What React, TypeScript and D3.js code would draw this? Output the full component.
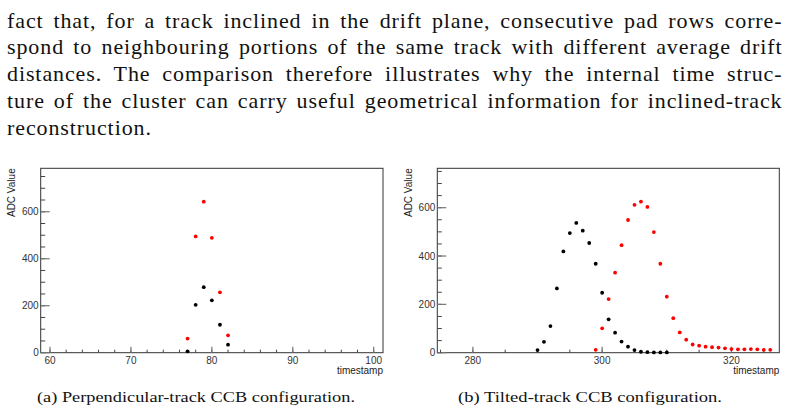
import React, { useLayoutEffect, useRef, useState } from 'react'
import * as d3 from 'd3'

// paragraph lines (justified, last line left ragged)
const bodyLines = [
  'fact that, for a track inclined in the drift plane, consecutive pad rows corre-',
  'spond to neighbouring portions of the same track with different average drift',
  'distances. The comparison therefore illustrates why the internal time struc-',
  'ture of the cluster can carry useful geometrical information for inclined-track',
  'reconstruction.',
]

const captionA = '(a) Perpendicular-track CCB configuration.'
const captionB = '(b) Tilted-track CCB configuration.'

// perpendicular track
const perpTimes = [77, 78, 79, 80, 81, 82]
const perpBlack = [6, 204, 279, 223, 119, 34]
const perpRed = [60, 495, 643, 489, 257, 74]

// tilted track
const tiltBlackTimes = [290, 291, 292, 293, 294, 295, 296, 297, 298, 299, 300, 301, 302, 303, 304, 305, 306, 307, 308, 309, 310]
const tiltBlack = [11, 45, 110, 266, 419, 495, 537, 505, 454, 368, 248, 138, 83, 46, 25, 11, 4, 2, 1, 1, 1]
const tiltRedTimes = [299, 300, 301, 302, 303, 304, 305, 306, 307, 308, 309, 310, 311, 312, 313, 314, 315, 316, 317, 318, 319, 320, 321, 322, 323, 324, 325, 326]
const tiltRed = [12, 101, 222, 331, 445, 549, 612, 625, 603, 499, 368, 232, 143, 84, 54, 34, 29, 25, 23, 21, 18, 15, 14, 14, 15, 14, 12, 12]

const sans = "'Liberation Sans', Arial, sans-serif"
const serif = "'Liberation Serif', 'Times New Roman', serif"

type Series = { times: number[]; values: number[]; color: string }

function Panel({
  left, right, top, bottom,
  xDomain, yTop,
  xMajor, xMinor,
  series,
}: {
  left: number; right: number; top: number; bottom: number
  xDomain: [number, number]; yTop: number
  xMajor: number[]; xMinor: number[]
  series: Series[]
}) {
  const x = d3.scaleLinear().domain(xDomain).range([left, right])
  const y = d3.scaleLinear().domain([0, yTop]).range([bottom, top])
  const yMajor = d3.range(0, yTop, 200)
  const yMinor = d3.range(0, yTop, 50)

  return (
    <g>
      {/* frame */}
      <rect x={left} y={top} width={right - left} height={bottom - top}
        fill="none" stroke="#333" strokeWidth={1} />

      {/* y ticks */}
      {yMinor.map(v => (
        <line key={'ym' + v} x1={left} x2={left + 4.5} y1={y(v)} y2={y(v)} stroke="#444" />
      ))}
      {yMajor.map(v => (
        <g key={'yM' + v}>
          <line x1={left} x2={left + 9} y1={y(v)} y2={y(v)} stroke="#777" strokeWidth={1.2} />
          <text x={left - 2} y={y(v) + 3.5} textAnchor="end" fontSize={10}
            style={{ fontFamily: sans }} fill="#333">{v}</text>
        </g>
      ))}

      {/* x ticks */}
      {xMinor.map(v => (
        <line key={'xm' + v} x1={x(v)} x2={x(v)} y1={bottom} y2={bottom - 3} stroke="#444" />
      ))}
      {xMajor.map(v => (
        <g key={'xM' + v}>
          <line x1={x(v)} x2={x(v)} y1={bottom} y2={bottom - 6} stroke="#777" strokeWidth={1.2} />
          <text x={x(v)} y={bottom + 11} textAnchor="middle" fontSize={10}
            style={{ fontFamily: sans }} fill="#333">{v}</text>
        </g>
      ))}

      {/* axis titles */}
      <text x={right} y={bottom + 21} textAnchor="end" fontSize={10}
        style={{ fontFamily: sans }} fill="#222">timestamp</text>
      <text transform={`translate(${left - 25.5},${top}) rotate(-90)`} textAnchor="end"
        fontSize={10} style={{ fontFamily: sans }} fill="#222">ADC Value</text>

      {/* markers */}
      {series.map((s, i) => (
        <g key={i}>
          {s.times.map((t, j) => (
            <circle key={t} cx={x(t)} cy={y(s.values[j])} r={1.9} fill={s.color} />
          ))}
        </g>
      ))}
    </g>
  )
}

const bodyLeft = 7
const bodyRight = 782.5
const baselines = [27.5, 54.3, 81, 107.8, 134.5]
const bodyLetterSpacing = 0.9

// justified paragraph: measure each line, then pad the word gaps
function Paragraph() {
  const refs = useRef<(SVGTextElement | null)[]>([])
  const [wordSpacing, setWordSpacing] = useState<number[]>(bodyLines.map(() => 0))

  useLayoutEffect(() => {
    const target = bodyRight - bodyLeft
    const next = bodyLines.map((line, i) => {
      const el = refs.current[i]
      if (!el || i === bodyLines.length - 1) return 0
      const natural = el.getComputedTextLength()
      const gaps = line.split(' ').length - 1
      return gaps > 0 ? Math.max(0, (target - natural) / gaps) : 0
    })
    setWordSpacing(next)
  }, [])

  return (
    <g>
      {bodyLines.map((line, i) => (
        <text key={i} ref={el => { refs.current[i] = el }}
          x={bodyLeft} y={baselines[i]} fontSize={22} fill="#111"
          style={{
            fontFamily: serif,
            letterSpacing: `${bodyLetterSpacing}px`,
            wordSpacing: `${wordSpacing[i]}px`,
          }}>
          {line}
        </text>
      ))}
    </g>
  )
}

export default function App() {
  return (
    <svg width={788} height={412} style={{ position: 'absolute', left: 0, top: 0, background: '#fff' }}>
      <rect width={788} height={412} fill="#fff" />

      <Paragraph />

      <Panel left={40.7} right={383} top={168.3} bottom={352.7}
        xDomain={[58.85, 101.15]} yTop={785}
        xMajor={[60, 70, 80, 90, 100]}
        xMinor={d3.range(60, 101, 2)}
        series={[
          { times: perpTimes, values: perpBlack, color: '#000' },
          { times: perpTimes, values: perpRed, color: '#f00' },
        ]} />

      <Panel left={437.3} right={779.3} top={168.3} bottom={352.7}
        xDomain={[274.5, 327.4]} yTop={763}
        xMajor={[280, 300, 320]}
        xMinor={d3.range(275, 327, 5)}
        series={[
          { times: tiltBlackTimes, values: tiltBlack, color: '#000' },
          { times: tiltRedTimes, values: tiltRed, color: '#f00' },
        ]} />

      <text x={37} y={402} fontSize={15.5} style={{ fontFamily: serif }} fill="#111"
        textLength={318} lengthAdjust="spacingAndGlyphs">{captionA}</text>
      <text x={458} y={402} fontSize={15.5} style={{ fontFamily: serif }} fill="#111"
        textLength={264} lengthAdjust="spacingAndGlyphs">{captionB}</text>
    </svg>
  )
}
